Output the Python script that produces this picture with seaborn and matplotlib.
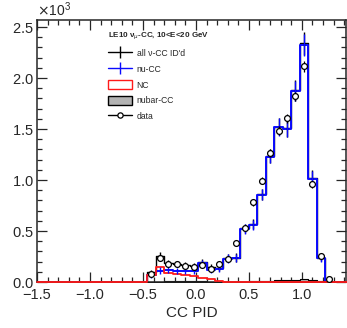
import numpy as np
import pandas as pd
import matplotlib
matplotlib.use("Agg")
import matplotlib.pyplot as plt
from matplotlib.lines import Line2D
from matplotlib.patches import Patch
from matplotlib.ticker import MultipleLocator, ScalarFormatter
import seaborn as sns

# CC PID binning: 0.08 wide bins from -1.5
edges = np.round(np.arange(-1.5, 1.47, 0.08), 2)
centers = np.round(0.5 * (edges[:-1] + edges[1:]), 3)

# events per bin (bins 0..36); only -0.46 < PID < 1.30 is populated
zeros13 = [0] * 13
zeros2 = [0] * 2
all_cc = zeros13 + [95, 255, 185, 178, 165, 155, 195, 150, 140, 235, 240, 525,
                    565, 860, 1235, 1525, 1510, 1880, 2340, 1020, 238, 0] + zeros2
nu_cc = zeros13 + [65, 110, 115, 112, 110, 108, 185, 122, 128, 230, 235, 520,
                   560, 855, 1230, 1520, 1505, 1875, 2325, 1010, 232, 0] + zeros2
nc = zeros13 + [65, 148, 90, 82, 70, 56, 42, 28, 8, 4, 3, 2,
                2, 2, 1, 1, 1, 1, 1, 1, 0, 0] + zeros2
nubar_cc = zeros13 + [0, 5, 8, 12, 12, 12, 8, 5, 3, 3, 3, 5,
                      10, 10, 12, 15, 20, 22, 25, 20, 8, 0] + zeros2
mc_err = zeros13 + [25, 35, 30, 30, 28, 28, 35, 30, 30, 40, 40, 45,
                    50, 55, 65, 85, 85, 100, 110, 75, 35, 0] + zeros2
data = zeros13 + [82, 235, 180, 175, 160, 148, 170, 132, 180, 230, 385, 530,
                  780, 995, 1265, 1485, 1605, 1820, 2115, 960, 260, 30] + zeros2
data_err = zeros13 + [12, 18, 16, 15, 15, 14, 15, 14, 15, 18, 22, 26,
                      32, 36, 40, 44, 45, 48, 52, 35, 18, 6] + zeros2

title = "LE10 ν$_{\\mu}$-CC, 10<E<20 GeV"

df = pd.DataFrame({"pid": centers, "all_cc": all_cc, "nu_cc": nu_cc, "nc": nc,
                   "nubar_cc": nubar_cc, "mc_err": mc_err, "data": data,
                   "data_err": data_err})
bin_list = [float(e) for e in edges]

sns.set_style("ticks")
plt.rcParams["font.family"] = ["Liberation Sans", "DejaVu Sans"]
plt.rcParams["mathtext.fontset"] = "dejavusans"

BLUE = "#0a0aff"
RED = "#ff1a1a"

fig = plt.figure(figsize=(3.47, 3.28), dpi=100)
ax = fig.add_axes([0.1066, 0.1402, 0.890, 0.799])

# MC components drawn as step outlines
sns.histplot(data=df, x="pid", weights="all_cc", bins=bin_list, element="step",
             fill=False, color="black", linewidth=1.0, ax=ax, zorder=2.0)
sns.histplot(data=df, x="pid", weights="nu_cc", bins=bin_list, element="step",
             fill=False, color=BLUE, linewidth=1.4, ax=ax, zorder=2.1)
sns.histplot(data=df, x="pid", weights="nubar_cc", bins=bin_list, element="step",
             fill=True, color="#b3b3b3", edgecolor="black", alpha=1, linewidth=0.8,
             ax=ax, zorder=2.2)
sns.histplot(data=df, x="pid", weights="nc", bins=bin_list, element="step",
             fill=False, color=RED, linewidth=1.3, ax=ax, zorder=2.7, clip_on=False)

pop = df[df["data"] > 0]
ax.errorbar(pop["pid"], pop["all_cc"], yerr=pop["mc_err"], fmt="none",
            ecolor="black", elinewidth=1.0, zorder=3)
ax.errorbar(pop["pid"], pop["nu_cc"], yerr=pop["mc_err"], fmt="none",
            ecolor=BLUE, elinewidth=1.0, zorder=3)
ax.errorbar(pop["pid"], pop["data"], yerr=pop["data_err"], fmt="o",
            color="black", mfc="white", mec="black", ms=4.2, mew=0.9,
            elinewidth=0.9, zorder=4)

ax.set_xlim(-1.5, 1.415)
ax.set_ylim(0, 2570)
ax.set_xlabel("CC PID", fontsize=11, labelpad=3)
ax.set_ylabel("")

ax.xaxis.set_major_locator(MultipleLocator(0.5))
ax.xaxis.set_minor_locator(MultipleLocator(0.1))
ax.yaxis.set_major_locator(MultipleLocator(500))
ax.yaxis.set_minor_locator(MultipleLocator(100))
fmt = ScalarFormatter(useMathText=True)
fmt.set_powerlimits((0, 0))
ax.yaxis.set_major_formatter(fmt)
ax.yaxis.get_offset_text().set_fontsize(10)
ax.tick_params(which="both", direction="in", top=True, right=True, labelsize=10.5, width=0.9)
ax.tick_params(which="major", length=7)
ax.tick_params(which="minor", length=3.5)
ax.xaxis.set_tick_params(pad=4.5)
ax.yaxis.set_tick_params(pad=2.5)
for s in ax.spines.values():
    s.set_linewidth(1.1)

handles = [
    Line2D([0], [0], color="black", lw=1.0, marker="|", ms=8, mew=1.0),
    Line2D([0], [0], color=BLUE, lw=1.0, marker="|", ms=8, mew=1.0),
    Patch(facecolor="white", edgecolor=RED, lw=1.0),
    Patch(facecolor="#b3b3b3", edgecolor="black", lw=1.0),
    Line2D([0], [0], color="black", lw=1.0, marker="o", ms=3.8, mfc="white", mew=0.9),
]
labels = ["all ν-CC ID'd", "nu-CC", "NC", "nubar-CC", "data"]
leg = ax.legend(handles, labels, loc="upper left", bbox_to_anchor=(0.298, 0.918),
                bbox_transform=fig.transFigure, frameon=False, fontsize=6.2,
                title=title, title_fontproperties={"weight": "bold", "size": 5.8},
                numpoints=1, handlelength=2.8, handleheight=1.3, labelspacing=0.72,
                handletextpad=0.55, borderpad=0.0, alignment="left")

fig.savefig("out.png", dpi=100)
